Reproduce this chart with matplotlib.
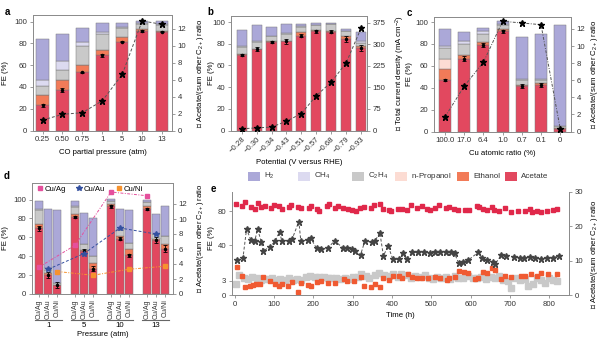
import numpy as np
import matplotlib
matplotlib.use('Agg')
import matplotlib.pyplot as plt
from matplotlib.patches import Rectangle
from matplotlib.lines import Line2D

plt.rcParams['font.family'] = ['Liberation Sans', 'DejaVu Sans']
plt.rcParams['mathtext.default'] = 'regular'
plt.rcParams['font.size'] = 5.6
plt.rcParams['axes.edgecolor'] = '#8c8c8c'
plt.rcParams['axes.linewidth'] = 0.7
for k in ('xtick', 'ytick'):
    plt.rcParams[k + '.color'] = '#8c8c8c'
    plt.rcParams[k + '.labelcolor'] = '#333333'
    plt.rcParams[k + '.major.size'] = 2.5
    plt.rcParams[k + '.major.width'] = 0.6
    plt.rcParams[k + '.major.pad'] = 1.5

# ---------------- data ----------------
a_cats = ['0.25', '0.50', '0.75', '1', '5', '10', '13']
a_acetate = [23, 37, 53.6, 69, 81.4, 91.6, 90.7]
a_ethanol = [10, 9.7, 6.8, 4.7, 4.0, 1.9, 1.0]
a_propanol = [0, 0, 0, 0, 0, 0, 0]
a_c2h4 = [8, 9, 17, 14.5, 9, 4.3, 5.4]
a_ch4 = [5.4, 8, 4, 2, 1, 0.5, 0.5]
a_h2 = [37.6, 24.5, 12.4, 8.3, 3.6, 2.0, 2.7]
a_err = [1.5, 2.0, 0.5, 1.5, 0.5, 1.0, 0.5]
a_ratio = [1.23, 1.9, 2.1, 3.5, 6.6, 12.9, 12.5]

b_cats = ['−0.28', '−0.30', '−0.34', '−0.43', '−0.51', '−0.57', '−0.68', '−0.79', '−0.93']
b_acetate = [70, 75, 81.4, 82.3, 87.6, 91.6, 91, 84.5, 76]
b_ethanol = [0.5, 0.5, 1, 0.5, 3, 1, 1, 2.5, 1.6]
b_propanol = [0, 0, 0, 0, 0, 0, 0, 0, 0]
b_c2h4 = [6.2, 6, 4.6, 6.2, 4.6, 4.3, 5.8, 4.6, 3.1]
b_ch4 = [1, 1, 0.5, 0.5, 1, 0.5, 0.5, 0.5, 1.5]
b_h2 = [15.3, 14.5, 8.2, 8.4, 2.3, 2.0, 1.1, 1.7, 9.1]
b_err = [1, 2, 1, 2.5, 1.5, 1.5, 1.5, 2.5, 2.5]
b_current = [6, 9, 12, 32, 59, 121, 168, 235, 355]

c_cats = ['100.0', '17.0', '6.4', '1.0', '0.7', '0.1', '0']
c_acetate = [47.4, 66.6, 79, 91.6, 41.8, 42.7, 2.5]
c_ethanol = [9.3, 3.1, 3, 1.6, 0.9, 1.6, 0.5]
c_propanol = [9.3, 0, 0, 0, 0, 0, 0]
c_c2h4 = [10, 10.2, 7.2, 4.3, 4.7, 3.1, 1.6]
c_ch4 = [1.8, 3.1, 2.5, 0.5, 1, 1, 0.5]
c_h2 = [15.5, 7.7, 2.7, 3.0, 37.6, 40.5, 92.4]
c_err = [1, 2, 2, 1.5, 2, 2, 0.5]
c_ratio = [1.7, 5.3, 8.1, 12.9, 12.7, 12.5, 0.3]

d_pressures = ['1', '5', '10', '13']
d_alloys = ['Cu/Ag', 'Cu/Au', 'Cu/Ni']
d_acetate = [69.4, 20, 9.5, 82, 45.8, 27, 93, 58.8, 41.2, 90.5, 57, 48.2]
d_ethanol = [5.2, 1.8, 0, 3, 1.2, 6, 2.8, 2.5, 6, 2.5, 1.8, 5.3]
d_propanol = [0] * 12
d_c2h4 = [14.1, 3.6, 1.8, 7, 5.8, 7, 2.8, 6.3, 7, 4.5, 4.6, 7.8]
d_ch4 = [1.8, 2.6, 0, 1, 0, 0, 0, 0, 0, 0, 0, 0]
d_h2 = [8.1, 62.5, 78.1, 5.6, 33.2, 40, 2.4, 22.9, 34.5, 2.5, 21.8, 31.7]
d_err = [3, 3, 3, 1, 2, 3, 1.5, 1.5, 1.5, 1, 3, 4]
d_ratio_ag = [3.6, 6.5, 13.6, 13.1]
d_ratio_au = [3.3, 5.4, 8.8, 8.0]
d_ratio_ni = [3.0, 2.5, 3.3, 3.7]

e_star_t = [6, 21, 30, 41, 51, 58, 68, 72, 89, 102, 114, 120, 137, 146, 163, 168, 185, 193, 208, 219,
            236, 254, 276, 286, 297, 307, 320, 331, 349, 356, 369, 378, 390, 402, 417, 427, 437, 451, 466, 481,
            496, 510, 522, 536, 549, 559, 569, 581, 593, 619, 629, 641, 658, 663, 678, 691, 710, 725, 736, 751,
            763, 780, 793, 810, 824]
e_star_ratio = [10.1, 10.9, 19.2, 16.0, 15.8, 19.2, 15.3, 12.8, 14.0, 15.6, 18.4, 15.6, 15.6, 16.3, 21.4, 15.8, 16.0, 16.6, 13.6, 13.3,
                13.6, 15.8, 13.6, 13.6, 13.5, 12.8, 11.7, 15.8, 15.3, 15.6, 18.2, 11.4, 14.3, 10.4, 10.4, 12.1, 10.4, 12.4, 12.4, 12.4,
                12.1, 12.6, 12.6, 12.6, 12.4, 12.1, 9.4, 9.7, 10.1, 12.4, 10.7, 10.1, 9.7, 9.1, 11.7, 11.4, 11.1, 10.9, 10.7, 11.1,
                10.7, 10.4, 10.7, 10.9, 11.4]
e_ace_t = [4, 19, 27, 41, 51, 58, 68, 78, 92, 100, 112, 120, 137, 144, 161, 169, 188, 195, 208, 215,
           234, 239, 254, 263, 276, 288, 297, 308, 319, 329, 347, 354, 369, 376, 392, 398, 415, 425, 437, 449,
           463, 475, 490, 497, 510, 520, 536, 546, 558, 568, 585, 595, 615, 620, 632, 642, 653, 659, 671, 686,
           702, 720, 737, 751, 756, 768, 780, 795, 810, 820]
e_ace_fe = [88.7, 85.9, 90.7, 84.7, 82.8, 89.5, 84.7, 85.9, 83.6, 86.7, 85.9, 82.0, 84.7, 86.7, 84.7, 83.6, 83.6, 85.9, 82.0, 80.0,
            85.9, 88.7, 83.6, 85.9, 83.6, 82.8, 80.8, 79.6, 83.6, 84.7, 83.6, 86.7, 88.7, 82.0, 80.8, 79.6, 82.0, 82.0, 80.8, 87.5,
            83.6, 85.9, 82.0, 80.8, 83.6, 86.7, 83.6, 84.7, 82.0, 80.8, 80.8, 80.8, 85.9, 84.7, 82.8, 80.8, 84.7, 80.8, 80.0, 83.6,
            78.8, 80.0, 80.0, 82.8, 78.8, 79.6, 78.8, 79.6, 80.8, 82.8]
e_eth_t = [6, 19, 27, 38, 47, 55, 64, 72, 89, 102, 112, 120, 136, 146, 161, 168, 186, 193, 210, 219,
           236, 254, 278, 286, 302, 320, 329, 346, 356, 369, 378, 392, 402, 417, 425, 441, 451, 464, 475, 492,
           508, 522, 539, 546, 559, 569, 583, 593, 610, 619, 632, 641, 654, 663, 678, 686, 703, 729, 737, 754,
           768, 780, 797, 820]
e_eth_fe = [5.9, 4.1, 1.7, 2.0, 2.2, 2.3, 2.4, 3.8, 2.9, 2.4, 2.0, 2.4, 1.8, 2.75, 0.7, 2.5, 2.2, 2.0, 2.7, 2.9,
            2.5, 2.5, 3.4, 2.9, 2.9, 3.9, 2.0, 1.7, 2.4, 1.7, 3.6, 3.1, 4.1, 4.1, 3.6, 4.4, 3.8, 3.6, 3.6, 3.6,
            3.8, 3.6, 3.2, 3.6, 3.8, 5.1, 4.8, 4.6, 3.4, 3.6, 4.8, 4.6, 5.7, 5.3, 3.4, 4.1, 3.9, 4.1, 4.1, 4.5,
            4.1, 4.6, 4.4, 4.4]
e_c2h4_t = [2, 10, 24, 34, 44, 56, 66, 75, 86, 95, 107, 115, 127, 137, 149, 158, 169, 181, 192, 203,
            214, 227, 236, 246, 258, 268, 280, 290, 300, 314, 322, 334, 342, 356, 368, 380, 393, 403, 415, 424,
            437, 447, 459, 471, 483, 493, 505, 515, 525, 536, 547, 559, 568, 581, 593, 607, 617, 627, 639, 651,
            661, 673, 683, 695, 703, 712, 725, 737, 746, 758, 768, 778, 788, 798, 810, 820]
e_c2h4_fe = [2.4, 4.2, 3.6, 3.4, 3.8, 3.6, 3.2, 3.4, 3.4, 3.6, 3.2, 3.4, 3.2, 3.6, 3.2, 3.4, 3.1, 3.9, 4.1, 3.8,
             3.9, 3.8, 3.6, 3.6, 3.6, 3.4, 3.6, 3.4, 3.8, 3.9, 4.5, 4.1, 3.6, 4.3, 4.6, 4.3, 4.1, 4.5, 3.9, 4.5,
             4.3, 3.6, 4.1, 3.8, 4.3, 3.6, 3.4, 3.9, 3.6, 3.9, 3.4, 4.1, 3.6, 3.6, 4.1, 3.6, 3.6, 3.9, 3.4, 3.8,
             3.6, 4.1, 3.2, 2.9, 1.5, 3.6, 3.1, 3.4, 2.0, 2.4, 3.6, 3.1, 2.5, 3.6, 3.2, 2.9]

COL = {'H2': '#aba8d8', 'CH4': '#dcdaf0', 'C2H4': '#c9c9c9', 'prop': '#fcdcd3',
       'eth': '#f27b58', 'ace': '#e2485f'}
EDGE = '#7a7a7a'

W, H = 600, 349
fig = plt.figure(figsize=(6, 3.49), dpi=100)


def box(l, t, r, b):
    return [l / W, 1 - b / H, (r - l) / W, (b - t) / H]


def stack(ax, x, layers, width):
    bottom = np.zeros(len(x))
    for vals, key in layers:
        vals = np.asarray(vals, float)
        ax.bar(x, vals, width, bottom=bottom, color=COL[key], edgecolor=EDGE, linewidth=0.35, zorder=2)
        bottom += vals
    return bottom


def errs(ax, x, vals, err):
    ax.errorbar(x, vals, yerr=err, fmt='o', ms=1.5, color='k', elinewidth=0.6,
                capsize=1.2, capthick=0.6, zorder=4)


def stars(ax2, x, y, ls=(0, (3, 2))):
    ax2.plot(x, y, ls=ls, color='#555555', lw=0.7, marker='*', ms=5,
             mfc='black', mec='black', zorder=5)


right_label = '★ Acetate/(sum other C$_{2+}$) ratio'

# ---------------- panel a ----------------
ax = fig.add_axes(box(33, 15, 172, 130.5))
x = np.arange(len(a_cats))
stack(ax, x, [(a_acetate, 'ace'), (a_ethanol, 'eth'), (a_propanol, 'prop'),
              (a_c2h4, 'C2H4'), (a_ch4, 'CH4'), (a_h2, 'H2')], 0.63)
errs(ax, x, a_acetate, a_err)
ax.set_xlim(-0.48, 6.5)
ax.set_ylim(0, 106)
ax.set_yticks(range(0, 101, 20))
ax.set_xticks(x)
ax.set_xticklabels(a_cats)
ax.set_xlabel('CO partial pressure (atm)', labelpad=4)
ax.set_ylabel('FE (%)')
ax.yaxis.set_label_coords(-0.17, 0.5)
ax2 = ax.twinx()
stars(ax2, x, a_ratio)
ax2.set_ylim(0, 13.6)
ax2.set_yticks(range(0, 13, 2))
ax2.set_ylabel(right_label)
ax2.yaxis.set_label_coords(1.165, 0.5)

# ---------------- panel b ----------------
ax = fig.add_axes(box(231, 16, 367, 130.5))
x = np.arange(len(b_cats))
stack(ax, x, [(b_acetate, 'ace'), (b_ethanol, 'eth'), (b_propanol, 'prop'),
              (b_c2h4, 'C2H4'), (b_ch4, 'CH4'), (b_h2, 'H2')], 0.68)
errs(ax, x, b_acetate, b_err)
ax.set_xlim(-0.72, 8.4)
ax.set_ylim(0, 105.6)
ax.set_yticks(range(0, 101, 20))
ax.set_xticks(x)
ax.set_xticklabels(b_cats, rotation=45, ha='right', rotation_mode='anchor')
ax.set_xlabel('Potential (V versus RHE)', labelpad=3)
ax.set_ylabel('FE (%)')
ax.yaxis.set_label_coords(-0.12, 0.5)
ax2 = ax.twinx()
stars(ax2, x, b_current)
ax2.set_ylim(0, 398)
ax2.set_yticks(range(0, 376, 75))
ax2.set_ylabel('★ Total current density (mA cm$^{-2}$)')
ax2.yaxis.set_label_coords(1.195, 0.5)

# ---------------- panel c ----------------
ax = fig.add_axes(box(434, 17, 571, 131.5))
x = np.arange(len(c_cats))
stack(ax, x, [(c_acetate, 'ace'), (c_ethanol, 'eth'), (c_propanol, 'prop'),
              (c_c2h4, 'C2H4'), (c_ch4, 'CH4'), (c_h2, 'H2')], 0.63)
errs(ax, x, c_acetate, c_err)
ax.set_xlim(-0.57, 6.56)
ax.set_ylim(0, 104.6)
ax.set_yticks(range(0, 101, 20))
ax.set_xticks(x)
ax.set_xticklabels(c_cats)
ax.set_xlabel('Cu atomic ratio (%)', labelpad=4)
ax.set_ylabel('FE (%)')
ax.yaxis.set_label_coords(-0.15, 0.5)
ax2 = ax.twinx()
stars(ax2, x, c_ratio, ls=(0, (3, 1.5, 1, 1.5)))
ax2.set_ylim(0, 13.4)
ax2.set_yticks(range(0, 13, 2))
ax2.set_ylabel(right_label)
ax2.yaxis.set_label_coords(1.13, 0.5)

# ---------------- panel d ----------------
ax = fig.add_axes(box(32, 183, 173, 294))
xd = np.array([4 * g + k for g in range(4) for k in range(3)], float)
stack(ax, xd, [(d_acetate, 'ace'), (d_ethanol, 'eth'), (d_propanol, 'prop'),
               (d_c2h4, 'C2H4'), (d_ch4, 'CH4'), (d_h2, 'H2')], 0.95)
errs(ax, xd, d_acetate, d_err)
ax.set_xlim(-0.8, 14.9)
ax.set_ylim(0, 117.6)
ax.set_yticks(range(0, 101, 20))
ax.set_xticks(xd)
ax.set_xticklabels(d_alloys * 4, rotation=90, fontsize=5)
ax.set_ylabel('FE (%)')
ax.yaxis.set_label_coords(-0.165, 0.5)
tr = ax.get_xaxis_transform()
for g, p in enumerate(d_pressures):
    ax.plot([4 * g - 0.5, 4 * g + 2.5], [-0.23, -0.23], transform=tr, color='#666666', lw=0.8, clip_on=False)
    ax.text(4 * g + 1, -0.255, p, transform=tr, ha='center', va='top')
ax.text(0.5, -0.33, 'Pressure (atm)', transform=ax.transAxes, ha='center', va='top')
ax2 = ax.twinx()
cols_d = ['#e5509c', '#34509f', '#f6922e']
styles_d = [(0, (3, 1.5, 1, 1.5)), (0, (3, 2)), (0, (3, 1.5, 1, 1.5))]
marks_d = ['s', '*', 's']
for k, (vals, c, ls, m) in enumerate(zip([d_ratio_ag, d_ratio_au, d_ratio_ni], cols_d, styles_d, marks_d)):
    ax2.plot(xd[k::3], vals, ls=ls, color=c, lw=0.7, marker=m, ms=2.6 if m == 's' else 4, zorder=5)
ax2.set_ylim(0, 14.8)
ax2.set_yticks(range(0, 13, 2))
ax2.set_ylabel(right_label)
ax2.yaxis.set_label_coords(1.155, 0.5)
handles = [Line2D([], [], ls='none', marker=m, color=c, ms=2.6 if m == 's' else 4)
           for c, m in zip(cols_d, marks_d)]
ax2.legend(handles, d_alloys, loc='upper left', ncol=3, frameon=False, fontsize=5.6,
           handletextpad=0.1, columnspacing=1.2, borderaxespad=0.15, handlelength=1.0,
           bbox_to_anchor=(0.0, 1.02))

# ---------------- panel e ----------------
EX = [0, 6, 15, 300]
EP = [0, 28.4, 28.6, 28.6 + 285 * 0.85]


def fwd(v):
    return np.interp(v, EX, EP)


def inv(p):
    return np.interp(p, EP, EX)


ax = fig.add_axes(box(232, 192, 569, 295))
ax.set_yscale('function', functions=(fwd, inv))
ax.plot(e_c2h4_t, e_c2h4_fe, ls='none', marker='s', ms=4.0, color=COL['C2H4'], zorder=2)
ax.plot(e_eth_t, e_eth_fe, ls='none', marker='s', ms=3.0, color='#f05a32', zorder=3)
ax.plot(e_ace_t, e_ace_fe, ls='none', marker='s', ms=3.0, color='#e0284a', zorder=3)
ax.set_xlim(-7, 850)
ax.set_ylim(0, 102.5)
ax.set_yticks([0, 3, 40, 80])
ax.set_xticks(range(0, 801, 100))
ax.spines['top'].set_visible(False)
ax.set_xlabel('Time (h)', labelpad=3)
ax.set_ylabel('FE (%)')
ax.yaxis.set_label_coords(-0.05, 0.55)
ax2 = ax.twinx()
ax2.spines['top'].set_visible(False)
ax2.plot(e_star_t, e_star_ratio, ls=(0, (3, 2)), color='#555555', lw=0.7, marker='*', ms=4.5,
         mfc='#444444', mec='#444444', zorder=5)
ax2.set_ylim(0, 30)
ax2.set_yticks([0, 10, 20, 30])
ax2.set_ylabel(right_label)
ax2.yaxis.set_label_coords(1.06, 0.4)

# ---------------- shared legend ----------------
leg_items = [('H$_2$', 'H2', 248), ('CH$_4$', 'CH4', 298), ('C$_2$H$_4$', 'C2H4', 352),
             ('$n$-Propanol', 'prop', 395), ('Ethanol', 'eth', 457), ('Acetate', 'ace', 505)]
for lab, key, px in leg_items:
    fig.add_artist(Rectangle((px / W, 1 - 180.5 / H), 12 / W, 8.5 / H, transform=fig.transFigure,
                             facecolor=COL[key], edgecolor='none'))
    fig.text((px + 16) / W, 1 - 176 / H, lab, ha='left', va='center', fontsize=5.8, color='#333333')

# ---------------- panel letters ----------------
for lab, px, py in [('a', 5, 12), ('b', 207, 12), ('c', 407, 13), ('d', 4, 176), ('e', 211, 189)]:
    fig.text(px / W, 1 - py / H, lab, fontsize=7, fontweight='bold', ha='left', va='center')

fig.savefig('out.png', dpi=100)
